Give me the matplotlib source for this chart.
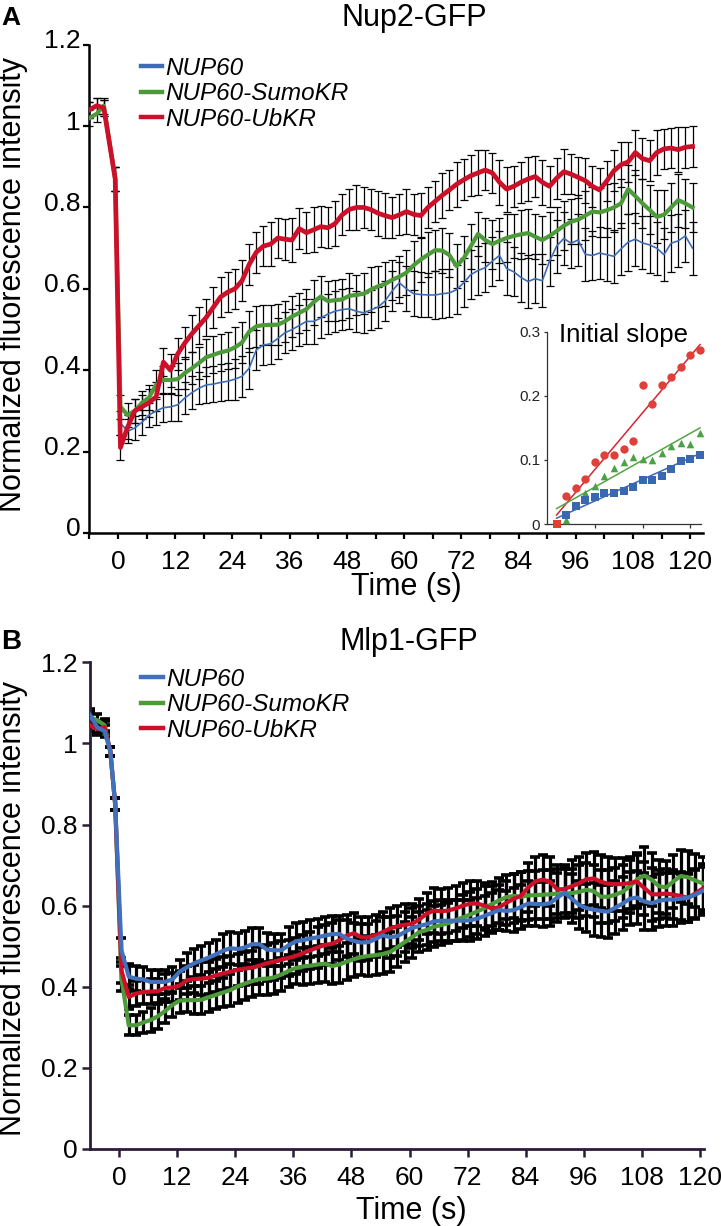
import numpy as np
import matplotlib
matplotlib.use("Agg")
import matplotlib.pyplot as plt
from matplotlib.lines import Line2D
from matplotlib.transforms import ScaledTranslation

plt.rcParams['font.family'] = ['Liberation Sans', 'DejaVu Sans']

# ---------------- data ----------------
series_labels = ["NUP60", "NUP60-SumoKR", "NUP60-UbKR"]

t_post = [0.5, 2.0, 3.5, 5.0, 6.5, 8.0, 9.5, 11.0, 12.5, 14.0,
          15.5, 17.0, 18.5, 20.0, 21.5, 23.0, 24.5, 26.0, 27.5, 29.0,
          30.5, 32.0, 33.5, 35.0, 36.5, 38.0, 39.5, 41.0, 42.5, 44.0,
          45.5, 47.0, 48.5, 50.0, 51.5, 53.0, 54.5, 56.0, 57.5, 59.0,
          60.5, 62.0, 63.5, 65.0, 66.5, 68.0, 69.5, 71.0, 72.5, 74.0,
          75.5, 77.0, 78.5, 80.0, 81.5, 83.0, 84.5, 86.0, 87.5, 89.0,
          90.5, 92.0, 93.5, 95.0, 96.5, 98.0, 99.5, 101.0, 102.5, 104.0,
          105.5, 107.0, 108.5, 110.0, 111.5, 113.0, 114.5, 116.0, 117.5, 119.0,
          120.5]

# Panel A: Nup2-GFP
tA_pre = [-6.0, -4.5, -3.0, -0.6]
blueA_pre = [1.04, 1.05, 1.045, 0.87]
greenA_pre = [1.02, 1.03, 1.05, 0.87]
redA_pre = [1.04, 1.05, 1.045, 0.87]
errA_pre = [0.02, 0.02, 0.02, 0.03]

redA = [0.21, 0.26, 0.30, 0.31, 0.32, 0.335, 0.42, 0.40, 0.44, 0.467,
        0.49, 0.51, 0.53, 0.555, 0.58, 0.592, 0.60, 0.62, 0.66, 0.69,
        0.705, 0.71, 0.725, 0.722, 0.72, 0.748, 0.738, 0.745, 0.753, 0.75,
        0.76, 0.782, 0.795, 0.80, 0.80, 0.795, 0.786, 0.78, 0.775, 0.782,
        0.79, 0.783, 0.78, 0.80, 0.815, 0.83, 0.843, 0.857, 0.868, 0.878,
        0.885, 0.892, 0.885, 0.862, 0.845, 0.852, 0.862, 0.87, 0.876, 0.862,
        0.852, 0.872, 0.888, 0.882, 0.874, 0.866, 0.852, 0.843, 0.865, 0.89,
        0.905, 0.912, 0.935, 0.92, 0.915, 0.935, 0.944, 0.946, 0.942, 0.948,
        0.95]
greenA = [0.31, 0.29, 0.30, 0.32, 0.333, 0.365, 0.376, 0.376, 0.378, 0.393,
          0.405, 0.418, 0.432, 0.438, 0.444, 0.448, 0.456, 0.468, 0.495, 0.508,
          0.511, 0.511, 0.512, 0.52, 0.532, 0.541, 0.55, 0.567, 0.581, 0.57,
          0.572, 0.574, 0.583, 0.585, 0.588, 0.598, 0.606, 0.612, 0.622, 0.63,
          0.64, 0.658, 0.672, 0.684, 0.695, 0.694, 0.683, 0.656, 0.675, 0.705,
          0.735, 0.72, 0.71, 0.718, 0.725, 0.73, 0.734, 0.737, 0.728, 0.72,
          0.73, 0.742, 0.755, 0.765, 0.77, 0.78, 0.79, 0.788, 0.793, 0.80,
          0.81, 0.845, 0.828, 0.81, 0.794, 0.777, 0.782, 0.80, 0.818, 0.81,
          0.80]
blueA = [0.27, 0.25, 0.258, 0.272, 0.29, 0.30, 0.308, 0.31, 0.315, 0.332,
         0.345, 0.356, 0.364, 0.366, 0.37, 0.373, 0.378, 0.385, 0.405, 0.45,
         0.462, 0.465, 0.478, 0.492, 0.50, 0.51, 0.52, 0.52, 0.528, 0.538,
         0.545, 0.549, 0.551, 0.545, 0.541, 0.548, 0.555, 0.57, 0.595, 0.615,
         0.60, 0.588, 0.586, 0.585, 0.585, 0.588, 0.59, 0.598, 0.615, 0.635,
         0.645, 0.652, 0.668, 0.682, 0.65, 0.642, 0.628, 0.618, 0.625, 0.62,
         0.668, 0.705, 0.724, 0.712, 0.72, 0.685, 0.682, 0.688, 0.684, 0.68,
         0.698, 0.715, 0.722, 0.713, 0.708, 0.70, 0.684, 0.712, 0.718, 0.73,
         0.70]
err_redA = [0.03, 0.03, 0.03, 0.03, 0.035, 0.035, 0.035, 0.04, 0.04, 0.04,
            0.045, 0.045, 0.045, 0.05, 0.05, 0.05, 0.05, 0.05, 0.05, 0.05,
            0.05, 0.055, 0.05, 0.05, 0.055, 0.05, 0.05, 0.055, 0.05, 0.05,
            0.055, 0.05, 0.05, 0.055, 0.05, 0.05, 0.055, 0.055, 0.05, 0.05,
            0.055, 0.05, 0.055, 0.05, 0.05, 0.055, 0.05, 0.055, 0.05, 0.05,
            0.055, 0.05, 0.05, 0.055, 0.055, 0.05, 0.05, 0.055, 0.05, 0.055,
            0.05, 0.05, 0.055, 0.05, 0.05, 0.055, 0.05, 0.055, 0.05, 0.05,
            0.055, 0.05, 0.055, 0.05, 0.05, 0.055, 0.05, 0.05, 0.055, 0.05,
            0.05]
err_greenA = [0.03, 0.03, 0.03, 0.03, 0.03, 0.035, 0.035, 0.035, 0.04, 0.04,
              0.04, 0.04, 0.045, 0.045, 0.045, 0.045, 0.05, 0.05, 0.05, 0.05,
              0.05, 0.05, 0.05, 0.05, 0.05, 0.05, 0.05, 0.055, 0.05, 0.05,
              0.05, 0.05, 0.055, 0.05, 0.05, 0.055, 0.05, 0.055, 0.05, 0.05,
              0.055, 0.06, 0.055, 0.055, 0.05, 0.055, 0.055, 0.055, 0.055, 0.055,
              0.055, 0.055, 0.06, 0.055, 0.06, 0.055, 0.06, 0.06, 0.055, 0.06,
              0.06, 0.06, 0.06, 0.055, 0.06, 0.06, 0.06, 0.06, 0.065, 0.06,
              0.06, 0.06, 0.065, 0.06, 0.06, 0.065, 0.06, 0.06, 0.065, 0.06,
              0.06]
err_blueA = [0.03, 0.03, 0.03, 0.03, 0.03, 0.035, 0.035, 0.035, 0.04, 0.04,
             0.04, 0.04, 0.045, 0.045, 0.045, 0.045, 0.05, 0.05, 0.05, 0.05,
             0.05, 0.05, 0.05, 0.05, 0.05, 0.05, 0.055, 0.055, 0.05, 0.05,
             0.05, 0.05, 0.05, 0.05, 0.05, 0.05, 0.05, 0.05, 0.05, 0.05,
             0.055, 0.055, 0.055, 0.055, 0.06, 0.06, 0.06, 0.06, 0.06, 0.06,
             0.06, 0.06, 0.06, 0.06, 0.065, 0.06, 0.06, 0.065, 0.06, 0.065,
             0.06, 0.065, 0.065, 0.06, 0.065, 0.065, 0.06, 0.065, 0.065, 0.065,
             0.065, 0.07, 0.065, 0.065, 0.07, 0.065, 0.065, 0.07, 0.065, 0.065,
             0.065]

# Inset: initial slope (first time points after bleach)
inset_idx = [1, 2, 3, 4, 5, 6, 7, 8, 9, 10, 11, 12, 13, 14, 15, 16]
inset_red = [0.0, 0.043, 0.056, 0.070, 0.096, 0.107, 0.108, 0.117,
             0.129, 0.217, 0.187, 0.217, 0.229, 0.245, 0.263, 0.272]
inset_green_idx = [2, 3, 4, 5, 6, 7, 8, 9, 10, 11, 12, 13, 14, 15, 16]
inset_green = [0.007, 0.029, 0.048, 0.060, 0.075, 0.088, 0.097, 0.104,
               0.101, 0.100, 0.110, 0.122, 0.127, 0.125, 0.142]
inset_blue_idx = [2, 3, 4, 5, 6, 7, 8, 9, 10, 11, 12, 13, 14, 15, 16]
inset_blue = [0.014, 0.028, 0.037, 0.042, 0.048, 0.049, 0.051, 0.057,
              0.069, 0.068, 0.075, 0.086, 0.098, 0.101, 0.108]
fit_x = [1, 16]
fit_red = [0.014, 0.28]
fit_green = [0.024, 0.150]
fit_blue = [0.009, 0.110]

# Panel B: Mlp1-GFP
tB_pre = [-6.0, -4.5, -3.0, -1.8, -0.8]
blueB_pre = [1.07, 1.04, 1.03, 0.98, 0.85]
greenB_pre = [1.065, 1.057, 1.045, 0.98, 0.85]
redB_pre = [1.045, 1.035, 1.04, 0.98, 0.85]
errB_pre = [0.015, 0.015, 0.015, 0.012, 0.015]

blueB = [0.49, 0.425, 0.42, 0.418, 0.412, 0.412, 0.412, 0.418, 0.437, 0.448,
         0.458, 0.465, 0.472, 0.48, 0.489, 0.495, 0.493, 0.497, 0.505, 0.505,
         0.492, 0.49, 0.49, 0.502, 0.512, 0.515, 0.519, 0.522, 0.526, 0.53,
         0.53, 0.519, 0.513, 0.509, 0.51, 0.518, 0.527, 0.522, 0.525, 0.535,
         0.545, 0.55, 0.554, 0.561, 0.563, 0.563, 0.563, 0.563, 0.564, 0.568,
         0.575, 0.582, 0.589, 0.587, 0.589, 0.597, 0.605, 0.604, 0.603, 0.606,
         0.62, 0.632, 0.617, 0.602, 0.594, 0.59, 0.587, 0.585, 0.595, 0.605,
         0.617, 0.62, 0.61, 0.606, 0.612, 0.615, 0.615, 0.617, 0.62, 0.627,
         0.636]
redB = [0.44, 0.375, 0.383, 0.387, 0.388, 0.389, 0.397, 0.398, 0.403, 0.416,
        0.419, 0.42, 0.422, 0.428, 0.433, 0.437, 0.442, 0.445, 0.447, 0.452,
        0.458, 0.462, 0.467, 0.471, 0.476, 0.483, 0.49, 0.497, 0.503, 0.506,
        0.515, 0.526, 0.532, 0.522, 0.522, 0.527, 0.535, 0.544, 0.549, 0.553,
        0.555, 0.566, 0.58, 0.588, 0.586, 0.588, 0.593, 0.60, 0.605, 0.605,
        0.60, 0.593, 0.596, 0.607, 0.617, 0.624, 0.645, 0.66, 0.664, 0.659,
        0.64, 0.641, 0.648, 0.655, 0.665, 0.667, 0.659, 0.654, 0.653, 0.653,
        0.656, 0.659, 0.643, 0.628, 0.628, 0.63, 0.627, 0.624, 0.619, 0.63,
        0.642]
greenB = [0.42, 0.305, 0.305, 0.312, 0.318, 0.327, 0.34, 0.355, 0.366, 0.367,
          0.367, 0.368, 0.374, 0.38, 0.386, 0.392, 0.401, 0.408, 0.414, 0.419,
          0.42, 0.423, 0.43, 0.439, 0.446, 0.45, 0.452, 0.455, 0.457, 0.451,
          0.455, 0.462, 0.468, 0.473, 0.476, 0.478, 0.481, 0.486, 0.498, 0.51,
          0.522, 0.535, 0.54, 0.548, 0.552, 0.557, 0.564, 0.571, 0.578, 0.586,
          0.594, 0.604, 0.613, 0.621, 0.624, 0.622, 0.625, 0.626, 0.627, 0.628,
          0.63, 0.63, 0.631, 0.634, 0.639, 0.636, 0.622, 0.622, 0.627, 0.634,
          0.648, 0.665, 0.674, 0.664, 0.648, 0.645, 0.66, 0.673, 0.67, 0.662,
          0.655]
err_blueB = [0.03, 0.03, 0.03, 0.03, 0.03, 0.03, 0.03, 0.03, 0.03, 0.035,
             0.035, 0.035, 0.035, 0.035, 0.04, 0.04, 0.04, 0.04, 0.04, 0.04,
             0.04, 0.04, 0.04, 0.045, 0.045, 0.045, 0.045, 0.045, 0.045, 0.045,
             0.045, 0.045, 0.045, 0.045, 0.045, 0.045, 0.045, 0.05, 0.05, 0.05,
             0.05, 0.05, 0.05, 0.05, 0.05, 0.05, 0.05, 0.05, 0.05, 0.05,
             0.05, 0.05, 0.05, 0.05, 0.055, 0.055, 0.055, 0.055, 0.055, 0.055,
             0.06, 0.06, 0.06, 0.06, 0.06, 0.065, 0.065, 0.065, 0.065, 0.065,
             0.065, 0.065, 0.07, 0.065, 0.065, 0.065, 0.065, 0.06, 0.06, 0.06,
             0.06]
err_redB = [0.03, 0.03, 0.03, 0.03, 0.03, 0.03, 0.035, 0.035, 0.035, 0.035,
            0.035, 0.04, 0.04, 0.04, 0.04, 0.04, 0.04, 0.04, 0.04, 0.045,
            0.045, 0.045, 0.045, 0.045, 0.045, 0.045, 0.045, 0.05, 0.05, 0.05,
            0.05, 0.05, 0.05, 0.05, 0.05, 0.05, 0.05, 0.05, 0.05, 0.05,
            0.05, 0.05, 0.05, 0.055, 0.055, 0.055, 0.055, 0.055, 0.055, 0.055,
            0.055, 0.055, 0.055, 0.055, 0.06, 0.06, 0.06, 0.06, 0.06, 0.06,
            0.06, 0.06, 0.065, 0.065, 0.065, 0.065, 0.065, 0.065, 0.065, 0.065,
            0.065, 0.065, 0.065, 0.065, 0.06, 0.06, 0.06, 0.06, 0.06, 0.06,
            0.06]
err_greenB = [0.03, 0.025, 0.025, 0.025, 0.03, 0.03, 0.03, 0.03, 0.03, 0.03,
              0.035, 0.035, 0.035, 0.035, 0.035, 0.04, 0.04, 0.04, 0.04, 0.04,
              0.04, 0.04, 0.04, 0.04, 0.04, 0.045, 0.045, 0.045, 0.045, 0.045,
              0.045, 0.045, 0.045, 0.045, 0.05, 0.05, 0.05, 0.05, 0.05, 0.05,
              0.05, 0.05, 0.05, 0.05, 0.05, 0.05, 0.05, 0.055, 0.055, 0.055,
              0.055, 0.055, 0.055, 0.055, 0.055, 0.06, 0.06, 0.06, 0.06, 0.06,
              0.06, 0.06, 0.06, 0.065, 0.065, 0.065, 0.065, 0.065, 0.065, 0.065,
              0.065, 0.065, 0.07, 0.065, 0.065, 0.065, 0.065, 0.065, 0.065, 0.065,
              0.065]

x_ticks = [0, 12, 24, 36, 48, 60, 72, 84, 96, 108, 120]
y_ticks = [0, 0.2, 0.4, 0.6, 0.8, 1.0, 1.2]
y_ticklabels = ["0", "0.2", "0.4", "0.6", "0.8", "1", "1.2"]
inset_yticks = [0, 0.1, 0.2, 0.3]
inset_yticklabels = ["0", "0.1", "0.2", "0.3"]

# ---------------- styling ----------------
C_RED = '#cc1029'
C_GREEN = '#4d9a3a'
C_BLUE = '#3f6db4'
W, H = 721, 1226


def fx(px):
    return px / W


def fy(py):
    return 1 - py / H


fig = plt.figure(figsize=(7.21, 12.26), dpi=100)

# ================= Panel A =================
axA = fig.add_axes([fx(89), fy(533), (703 - 89) / W, (533 - 44.7) / H])
tA_all = tA_pre + t_post
for vals_pre, vals, epre, err in [(blueA_pre, blueA, errA_pre, err_blueA),
                                  (greenA_pre, greenA, errA_pre, err_greenA),
                                  (redA_pre, redA, errA_pre, err_redA)]:
    axA.errorbar(tA_all, vals_pre + vals, yerr=epre + err, fmt='none',
                 ecolor='black', elinewidth=0.9, capsize=2.6, capthick=0.9,
                 zorder=2)
axA.plot(tA_all, blueA_pre + blueA, color=C_BLUE, lw=1.2, zorder=3)
axA.plot(tA_all, greenA_pre + greenA, color=C_GREEN, lw=3.0, zorder=4)
axA.plot(tA_all, redA_pre + redA, color=C_RED, lw=3.4, zorder=5)

axA.set_xlim(-6.1, 122.7)
axA.set_ylim(0, 1.2)
axA.spines['top'].set_visible(False)
axA.spines['right'].set_visible(False)
for s in ['left', 'bottom']:
    axA.spines[s].set_linewidth(1.8)
axA.set_xticks(x_ticks)
axA.set_xticks([-6, 6, 18, 30, 42, 54, 66, 78, 90, 102, 114], minor=True)
axA.set_yticks(y_ticks)
axA.set_yticklabels(y_ticklabels)
axA.tick_params(axis='x', which='both', direction='out', length=4, width=1.6,
                labelsize=19, pad=8)
axA.tick_params(axis='y', direction='out', length=4, width=1.6,
                labelsize=19, pad=2)
off = ScaledTranslation(0, 0.06, fig.dpi_scale_trans)
for lab in axA.get_yticklabels():
    lab.set_transform(lab.get_transform() + off)

legA = axA.legend([Line2D([], [], color=c, lw=3.2) for c in (C_BLUE, C_GREEN, C_RED)],
                  series_labels, loc='upper left',
                  bbox_to_anchor=(fx(141), fy(57)), bbox_transform=fig.transFigure,
                  frameon=False, borderpad=0, borderaxespad=0,
                  handlelength=0.85, handletextpad=0.15, labelspacing=0.1,
                  prop={'size': 17.5, 'style': 'italic'})

fig.text(fx(414), fy(26), "Nup2-GFP", fontsize=22, ha='center', va='baseline')
fig.text(fx(406), fy(595), "Time (s)", fontsize=22, ha='center', va='baseline')
fig.text(fx(13), fy(284), "Normalized fluorescence intensity", fontsize=22,
         rotation=90, ha='center', va='center')
fig.text(fx(1), fy(25), "A", fontsize=19, fontweight='bold', ha='left', va='baseline')

# ---- inset ----
axI = fig.add_axes([fx(547), fy(524), (701 - 547) / W, (524 - 331.7) / H])
axI.plot(fit_x, fit_red, color='#d42535', lw=1.1, zorder=2)
axI.plot(fit_x, fit_green, color='#55a544', lw=1.1, zorder=2)
axI.plot(fit_x, fit_blue, color='#3a68b0', lw=1.1, zorder=2)
axI.scatter(inset_idx[:1], inset_red[:1], marker='s', s=30, color='#e0402e',
            zorder=3, clip_on=False, linewidths=0)
axI.scatter(inset_idx[1:], inset_red[1:], marker='o', s=36, color='#e0403a',
            zorder=3, clip_on=False, linewidths=0)
axI.scatter(inset_green_idx, inset_green, marker='^', s=30, color='#4ea048',
            zorder=3, clip_on=False, linewidths=0)
axI.scatter(inset_blue_idx, inset_blue, marker='s', s=30, color='#3a68b0',
            zorder=3, clip_on=False, linewidths=0)
axI.set_xlim(0, 16.1)
axI.set_ylim(0, 0.3)
axI.patch.set_alpha(0)
axI.spines['top'].set_visible(False)
axI.spines['right'].set_visible(False)
for s in ['left', 'bottom']:
    axI.spines[s].set_linewidth(0.9)
    axI.spines[s].set_color('#333333')
axI.set_xticks([5, 10, 15])
axI.set_xticklabels([])
axI.set_yticks(inset_yticks)
axI.set_yticklabels(inset_yticklabels)
axI.tick_params(axis='x', direction='out', length=3, width=0.9, color='#333333')
axI.tick_params(axis='y', direction='out', length=2, width=0.9, color='#333333',
                labelsize=11, labelcolor='#222222', pad=3)
fig.text(fx(559), fy(342), "Initial slope", fontsize=18.5, ha='left', va='baseline')

# ================= Panel B =================
axB = fig.add_axes([fx(90), fy(1149), (704 - 90) / W, (1149 - 662.3) / H])
tB_all = tB_pre + t_post
for vals_pre, vals, err in [(greenB_pre, greenB, err_greenB),
                            (redB_pre, redB, err_redB),
                            (blueB_pre, blueB, err_blueB)]:
    axB.errorbar(tB_all, vals_pre + vals, yerr=errB_pre + err, fmt='none',
                 ecolor='black', elinewidth=2.3, capsize=3.4, capthick=2.6,
                 zorder=2)
axB.plot(tB_all, greenB_pre + greenB, color=C_GREEN, lw=3.0, zorder=3)
axB.plot(tB_all, redB_pre + redB, color=C_RED, lw=3.0, zorder=4)
axB.plot(tB_all, blueB_pre + blueB, color='#4170bd', lw=3.0, zorder=5)

axB.set_xlim(-6.0, 120.8)
axB.set_ylim(0, 1.2)
axB.spines['top'].set_visible(False)
axB.spines['right'].set_visible(False)
for s in ['left', 'bottom']:
    axB.spines[s].set_linewidth(2.0)
    axB.spines[s].set_color('#2b1d38')
axB.set_xticks(x_ticks)
axB.set_yticks(y_ticks)
axB.set_yticklabels(y_ticklabels)
axB.tick_params(axis='x', direction='out', length=6, width=1.8, color='#2b1d38',
                labelsize=19, pad=6)
axB.tick_params(axis='y', direction='out', length=6, width=1.8, color='#2b1d38',
                labelsize=19, pad=3)

legB = axB.legend([Line2D([], [], color=c, lw=3.2) for c in ('#4170bd', C_GREEN, C_RED)],
                  series_labels, loc='upper left',
                  bbox_to_anchor=(fx(141), fy(668)), bbox_transform=fig.transFigure,
                  frameon=False, borderpad=0, borderaxespad=0,
                  handlelength=0.9, handletextpad=0.12, labelspacing=0.1,
                  prop={'size': 17.5, 'style': 'italic'})

fig.text(fx(409), fy(650), "Mlp1-GFP", fontsize=22, ha='center', va='baseline')
fig.text(fx(411), fy(1219), "Time (s)", fontsize=22, ha='center', va='baseline')
fig.text(fx(13), fy(908), "Normalized fluorescence intensity", fontsize=22,
         rotation=90, ha='center', va='center')
fig.text(fx(1), fy(649), "B", fontsize=20, fontweight='bold', ha='left', va='baseline')

fig.savefig("out.png", dpi=100)
